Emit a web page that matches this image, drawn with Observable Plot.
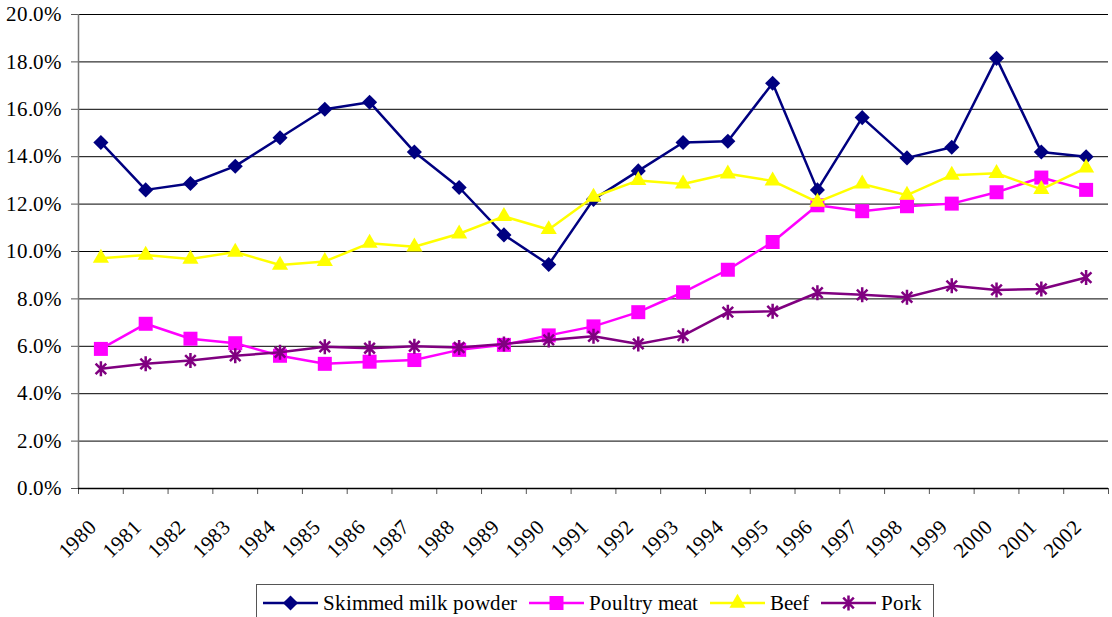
<!DOCTYPE html>
<html><head><meta charset="utf-8">
<style>
@font-face{font-family:"ChartSerif";src:local("Liberation Serif"),local("LiberationSerif"),local("Liberation Serif Regular"),local("LiberationSerif-Regular");}
body{margin:0;background:#fff;font-family:"ChartSerif","Liberation Serif","DejaVu Serif",serif;}
#chart{position:relative;width:1112px;height:617px;overflow:hidden;background:#fff}
#legend{position:absolute;left:256px;top:584px;height:38px;border:1px solid #555;display:flex;align-items:center;padding:0 11px 0 6px;font-size:21px;box-sizing:border-box;background:#fff;color:#000;white-space:nowrap}
#legend .item{display:flex;align-items:center}
#legend .item span{margin-left:5px;margin-right:12px}
#legend .item:last-child span{margin-right:0}
</style>
<script src="https://cdn.jsdelivr.net/npm/d3@7"></script>
<script src="https://cdn.jsdelivr.net/npm/@observablehq/plot@0.6"></script>
</head>
<body><div id="chart"></div>
<script>
const years = [1980,1981,1982,1983,1984,1985,1986,1987,1988,1989,1990,1991,1992,1993,1994,1995,1996,1997,1998,1999,2000,2001,2002];
const skimmed = [14.6,12.6,12.87,13.6,14.8,16.0,16.3,14.2,12.7,10.7,9.45,12.2,13.4,14.6,14.65,17.1,12.6,15.65,13.95,14.4,18.15,14.2,14.0];
const poultry = [5.89,6.95,6.32,6.13,5.6,5.26,5.35,5.42,5.85,6.06,6.46,6.84,7.44,8.28,9.23,10.4,11.95,11.7,11.91,12.02,12.5,13.12,12.6];
const beef = [9.72,9.85,9.68,9.98,9.43,9.58,10.35,10.2,10.75,11.48,10.93,12.3,13.0,12.85,13.28,12.98,12.08,12.85,12.38,13.22,13.3,12.62,13.53];
const pork = [5.05,5.26,5.4,5.6,5.75,5.98,5.92,6.0,5.95,6.1,6.27,6.42,6.1,6.45,7.44,7.48,8.26,8.17,8.07,8.55,8.38,8.42,8.9];
const yTicks = [0,2,4,6,8,10,12,14,16,18,20];
const FONT = "ChartSerif, 'Liberation Serif', 'DejaVu Serif', serif";

const starSymbol = {draw(ctx, size){ const r = Math.sqrt(size/Math.PI); const d = r*Math.SQRT1_2;
  ctx.moveTo(0,-r); ctx.lineTo(0,r); ctx.moveTo(-d,-d); ctx.lineTo(d,d); ctx.moveTo(-d,d); ctx.lineTo(d,-d);} };

const series = [
  {name:"Skimmed milk powder", values:skimmed, color:"#000080", symbol:"diamond2", r:6.8, filled:true},
  {name:"Poultry meat", values:poultry, color:"#FF00FF", symbol:"square", r:7.9, filled:true},
  {name:"Beef", values:beef, color:"#FFFF00", symbol:"triangle", r:6.0, filled:true},
  {name:"Pork", values:pork, color:"#800080", symbol:starSymbol, r:7.5, filled:false}
];

const bounds = years.map(y => y - 0.5).concat([years[years.length-1] + 0.5]);

const marks = [
  Plot.gridY(yTicks, {stroke:"#000", strokeOpacity:1, strokeWidth:1}),
  Plot.axisY(yTicks, {tickSize:7, tickPadding:10, tickFormat:d => d.toFixed(1) + "%", label:null, stroke:"#555", fill:"#000", fontFamily:FONT}),
  Plot.ruleX([bounds[0]], {stroke:"#777", strokeWidth:1.5}),
  Plot.axisX(bounds, {tickSize:6, tickFormat:() => "", label:null, stroke:"#555"}),
  Plot.ruleY([0], {stroke:"#000", strokeWidth:1.5}),
  Plot.text(years, {x:d => d, frameAnchor:"bottom", text:d => String(d), rotate:-45, textAnchor:"end", lineAnchor:"middle", dx:-8, dy:35, fill:"#000", fontFamily:FONT})
];
for (const s of series) {
  const data = years.map((y,i) => ({year:y, v:s.values[i]}));
  marks.push(Plot.line(data, {x:"year", y:"v", stroke:s.color, strokeWidth:2.5}));
  if (s.filled) marks.push(Plot.dot(data, {x:"year", y:"v", symbol:s.symbol, r:s.r, fill:s.color, stroke:"none"}));
  else marks.push(Plot.dot(data, {x:"year", y:"v", symbol:s.symbol, r:s.r, fill:"none", stroke:s.color, strokeWidth:2.5}));
}

const chart = Plot.plot({
  width:1112, height:584,
  marginLeft:78, marginRight:4, marginTop:14, marginBottom:96,
  style:`font-family:${FONT};font-size:21px;background:#fff;color:#000;overflow:visible`,
  x:{type:"linear", domain:[bounds[0], bounds[bounds.length-1]], axis:null},
  y:{domain:[0,20], axis:null},
  marks
});
chart.setAttribute("font-family", FONT);
const root = document.getElementById("chart");
root.appendChild(chart);

const legend = document.createElement("div");
legend.id = "legend";
for (const s of series) {
  const item = document.createElement("div"); item.className = "item";
  const svg = d3.create("svg").attr("width",55).attr("height",20);
  svg.append("line").attr("x1",0).attr("x2",55).attr("y1",10).attr("y2",10).attr("stroke",s.color).attr("stroke-width",2.5);
  const symObj = s.symbol === "diamond2" ? d3.symbolDiamond2 : s.symbol === "square" ? d3.symbolSquare : s.symbol === "triangle" ? d3.symbolTriangle : s.symbol;
  const p = svg.append("path").attr("transform","translate(27.5,10)").attr("d", d3.symbol(symObj, Math.PI*s.r*s.r)());
  if (s.filled) p.attr("fill", s.color); else p.attr("fill","none").attr("stroke", s.color).attr("stroke-width",2.5);
  item.appendChild(svg.node());
  const t = document.createElement("span"); t.textContent = s.name; item.appendChild(t);
  legend.appendChild(item);
}
root.appendChild(legend);
</script></body></html>
